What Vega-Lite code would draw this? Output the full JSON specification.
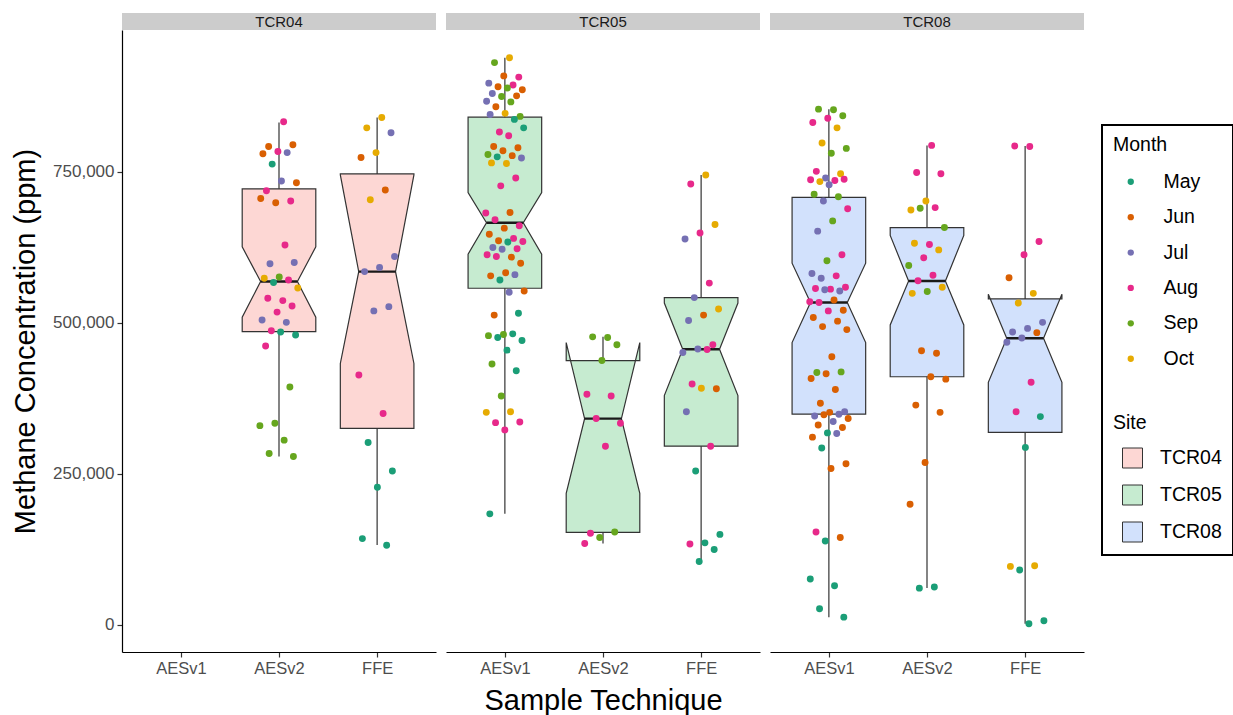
{
"$schema": "https://vega.github.io/schema/vega-lite/v6.json",
"background": "white",
"padding": {"left": 11, "top": 13, "right": 4, "bottom": 4},
"datasets": {
"boxes": [
{"site":"TCR04","tech":"AESv2","lower":279000,"q1":485700,"notchLo":509500,"median":568600,"notchHi":626000,"q3":722000,"upper":832000},
{"site":"TCR04","tech":"FFE","lower":132500,"q1":325600,"notchLo":433000,"median":585000,"notchHi":745000,"q3":746800,"upper":840000},
{"site":"TCR05","tech":"AESv1","lower":184000,"q1":557500,"notchLo":614000,"median":666000,"notchHi":716000,"q3":840700,"upper":939000},
{"site":"TCR05","tech":"AESv2","lower":135000,"q1":153500,"notchLo":218000,"median":341600,"notchHi":467500,"q3":437700,"upper":477000},
{"site":"TCR05","tech":"FFE","lower":105000,"q1":296000,"notchLo":379700,"median":456500,"notchHi":533000,"q3":542000,"upper":745000},
{"site":"TCR08","tech":"AESv1","lower":13000,"q1":349000,"notchLo":467500,"median":534000,"notchHi":599000,"q3":708000,"upper":854000},
{"site":"TCR08","tech":"AESv2","lower":61300,"q1":411000,"notchLo":496800,"median":569600,"notchHi":645000,"q3":658000,"upper":794000},
{"site":"TCR08","tech":"FFE","lower":2000,"q1":319000,"notchLo":401800,"median":474600,"notchHi":547600,"q3":539800,"upper":793000}
],
"points": [
{"site":"TCR04","tech":"AESv2","month":"Aug","ppm":833000},
{"site":"TCR04","tech":"AESv2","month":"Jun","ppm":792000},
{"site":"TCR04","tech":"AESv2","month":"Jun","ppm":795000},
{"site":"TCR04","tech":"AESv2","month":"Aug","ppm":784000},
{"site":"TCR04","tech":"AESv2","month":"Jun","ppm":780000},
{"site":"TCR04","tech":"AESv2","month":"Jul","ppm":782000},
{"site":"TCR04","tech":"AESv2","month":"May","ppm":763000},
{"site":"TCR04","tech":"AESv2","month":"Jun","ppm":732000},
{"site":"TCR04","tech":"AESv2","month":"Jul","ppm":735000},
{"site":"TCR04","tech":"AESv2","month":"Aug","ppm":719000},
{"site":"TCR04","tech":"AESv2","month":"Aug","ppm":702000},
{"site":"TCR04","tech":"AESv2","month":"Jun","ppm":699000},
{"site":"TCR04","tech":"AESv2","month":"Jun","ppm":706000},
{"site":"TCR04","tech":"AESv2","month":"Aug","ppm":629000},
{"site":"TCR04","tech":"AESv2","month":"Jul","ppm":598000},
{"site":"TCR04","tech":"AESv2","month":"Jul","ppm":600000},
{"site":"TCR04","tech":"AESv2","month":"Sep","ppm":576000},
{"site":"TCR04","tech":"AESv2","month":"Oct","ppm":574000},
{"site":"TCR04","tech":"AESv2","month":"Aug","ppm":571000},
{"site":"TCR04","tech":"AESv2","month":"May","ppm":567000},
{"site":"TCR04","tech":"AESv2","month":"Oct","ppm":558000},
{"site":"TCR04","tech":"AESv2","month":"Aug","ppm":537000},
{"site":"TCR04","tech":"AESv2","month":"Aug","ppm":541000},
{"site":"TCR04","tech":"AESv2","month":"Aug","ppm":528000},
{"site":"TCR04","tech":"AESv2","month":"Aug","ppm":518000},
{"site":"TCR04","tech":"AESv2","month":"Jul","ppm":505000},
{"site":"TCR04","tech":"AESv2","month":"Jul","ppm":501000},
{"site":"TCR04","tech":"AESv2","month":"Aug","ppm":487000},
{"site":"TCR04","tech":"AESv2","month":"May","ppm":480000},
{"site":"TCR04","tech":"AESv2","month":"May","ppm":485000},
{"site":"TCR04","tech":"AESv2","month":"Aug","ppm":462000},
{"site":"TCR04","tech":"AESv2","month":"Sep","ppm":394000},
{"site":"TCR04","tech":"AESv2","month":"Sep","ppm":334000},
{"site":"TCR04","tech":"AESv2","month":"Sep","ppm":330000},
{"site":"TCR04","tech":"AESv2","month":"Sep","ppm":306000},
{"site":"TCR04","tech":"AESv2","month":"Sep","ppm":284000},
{"site":"TCR04","tech":"AESv2","month":"Sep","ppm":279000},
{"site":"TCR04","tech":"FFE","month":"Oct","ppm":840000},
{"site":"TCR04","tech":"FFE","month":"Oct","ppm":823000},
{"site":"TCR04","tech":"FFE","month":"Jul","ppm":815000},
{"site":"TCR04","tech":"FFE","month":"Oct","ppm":782000},
{"site":"TCR04","tech":"FFE","month":"Jun","ppm":774000},
{"site":"TCR04","tech":"FFE","month":"Jun","ppm":720000},
{"site":"TCR04","tech":"FFE","month":"Oct","ppm":704000},
{"site":"TCR04","tech":"FFE","month":"Jul","ppm":610000},
{"site":"TCR04","tech":"FFE","month":"Jul","ppm":592000},
{"site":"TCR04","tech":"FFE","month":"Jul","ppm":585000},
{"site":"TCR04","tech":"FFE","month":"Jul","ppm":527000},
{"site":"TCR04","tech":"FFE","month":"Jul","ppm":520000},
{"site":"TCR04","tech":"FFE","month":"Aug","ppm":414000},
{"site":"TCR04","tech":"FFE","month":"Aug","ppm":350000},
{"site":"TCR04","tech":"FFE","month":"May","ppm":302000},
{"site":"TCR04","tech":"FFE","month":"May","ppm":255000},
{"site":"TCR04","tech":"FFE","month":"May","ppm":228000},
{"site":"TCR04","tech":"FFE","month":"May","ppm":143000},
{"site":"TCR04","tech":"FFE","month":"May","ppm":132000},
{"site":"TCR05","tech":"AESv1","month":"Oct","ppm":939000},
{"site":"TCR05","tech":"AESv1","month":"Sep","ppm":931000},
{"site":"TCR05","tech":"AESv1","month":"Aug","ppm":907000},
{"site":"TCR05","tech":"AESv1","month":"Jun","ppm":909000},
{"site":"TCR05","tech":"AESv1","month":"Jul","ppm":897000},
{"site":"TCR05","tech":"AESv1","month":"Aug","ppm":894000},
{"site":"TCR05","tech":"AESv1","month":"Jun","ppm":891000},
{"site":"TCR05","tech":"AESv1","month":"Jun","ppm":886000},
{"site":"TCR05","tech":"AESv1","month":"Sep","ppm":889000},
{"site":"TCR05","tech":"AESv1","month":"Jul","ppm":880000},
{"site":"TCR05","tech":"AESv1","month":"Jun","ppm":876000},
{"site":"TCR05","tech":"AESv1","month":"Sep","ppm":875000},
{"site":"TCR05","tech":"AESv1","month":"Jul","ppm":867000},
{"site":"TCR05","tech":"AESv1","month":"Sep","ppm":866000},
{"site":"TCR05","tech":"AESv1","month":"Jun","ppm":858000},
{"site":"TCR05","tech":"AESv1","month":"Sep","ppm":842000},
{"site":"TCR05","tech":"AESv1","month":"Oct","ppm":847000},
{"site":"TCR05","tech":"AESv1","month":"Jul","ppm":845000},
{"site":"TCR05","tech":"AESv1","month":"May","ppm":837000},
{"site":"TCR05","tech":"AESv1","month":"Aug","ppm":816000},
{"site":"TCR05","tech":"AESv1","month":"May","ppm":823000},
{"site":"TCR05","tech":"AESv1","month":"Aug","ppm":810000},
{"site":"TCR05","tech":"AESv1","month":"Jun","ppm":792000},
{"site":"TCR05","tech":"AESv1","month":"Jun","ppm":790000},
{"site":"TCR05","tech":"AESv1","month":"Jun","ppm":785000},
{"site":"TCR05","tech":"AESv1","month":"Sep","ppm":779000},
{"site":"TCR05","tech":"AESv1","month":"Jun","ppm":777000},
{"site":"TCR05","tech":"AESv1","month":"May","ppm":775000},
{"site":"TCR05","tech":"AESv1","month":"Jul","ppm":773000},
{"site":"TCR05","tech":"AESv1","month":"Oct","ppm":764000},
{"site":"TCR05","tech":"AESv1","month":"Oct","ppm":765000},
{"site":"TCR05","tech":"AESv1","month":"Aug","ppm":740000},
{"site":"TCR05","tech":"AESv1","month":"Aug","ppm":727000},
{"site":"TCR05","tech":"AESv1","month":"Aug","ppm":682000},
{"site":"TCR05","tech":"AESv1","month":"Jun","ppm":683000},
{"site":"TCR05","tech":"AESv1","month":"Aug","ppm":671000},
{"site":"TCR05","tech":"AESv1","month":"Aug","ppm":661000},
{"site":"TCR05","tech":"AESv1","month":"Jun","ppm":657000},
{"site":"TCR05","tech":"AESv1","month":"Jun","ppm":647000},
{"site":"TCR05","tech":"AESv1","month":"Aug","ppm":640000},
{"site":"TCR05","tech":"AESv1","month":"Jun","ppm":636000},
{"site":"TCR05","tech":"AESv1","month":"Aug","ppm":635000},
{"site":"TCR05","tech":"AESv1","month":"May","ppm":634000},
{"site":"TCR05","tech":"AESv1","month":"Jul","ppm":625000},
{"site":"TCR05","tech":"AESv1","month":"Aug","ppm":623000},
{"site":"TCR05","tech":"AESv1","month":"Jul","ppm":622000},
{"site":"TCR05","tech":"AESv1","month":"Aug","ppm":613000},
{"site":"TCR05","tech":"AESv1","month":"Jun","ppm":609000},
{"site":"TCR05","tech":"AESv1","month":"Aug","ppm":610000},
{"site":"TCR05","tech":"AESv1","month":"Jun","ppm":599000},
{"site":"TCR05","tech":"AESv1","month":"Jun","ppm":583000},
{"site":"TCR05","tech":"AESv1","month":"Jun","ppm":578000},
{"site":"TCR05","tech":"AESv1","month":"Jul","ppm":580000},
{"site":"TCR05","tech":"AESv1","month":"May","ppm":571000},
{"site":"TCR05","tech":"AESv1","month":"Jun","ppm":553000},
{"site":"TCR05","tech":"AESv1","month":"Jul","ppm":551000},
{"site":"TCR05","tech":"AESv1","month":"Jun","ppm":513000},
{"site":"TCR05","tech":"AESv1","month":"May","ppm":516000},
{"site":"TCR05","tech":"AESv1","month":"Sep","ppm":481000},
{"site":"TCR05","tech":"AESv1","month":"Sep","ppm":479000},
{"site":"TCR05","tech":"AESv1","month":"May","ppm":482000},
{"site":"TCR05","tech":"AESv1","month":"May","ppm":476000},
{"site":"TCR05","tech":"AESv1","month":"May","ppm":471000},
{"site":"TCR05","tech":"AESv1","month":"May","ppm":455000},
{"site":"TCR05","tech":"AESv1","month":"Sep","ppm":432000},
{"site":"TCR05","tech":"AESv1","month":"May","ppm":421000},
{"site":"TCR05","tech":"AESv1","month":"Sep","ppm":379000},
{"site":"TCR05","tech":"AESv1","month":"Oct","ppm":352000},
{"site":"TCR05","tech":"AESv1","month":"Oct","ppm":353000},
{"site":"TCR05","tech":"AESv1","month":"Aug","ppm":335000},
{"site":"TCR05","tech":"AESv1","month":"Aug","ppm":336000},
{"site":"TCR05","tech":"AESv1","month":"Aug","ppm":323000},
{"site":"TCR05","tech":"AESv1","month":"May","ppm":184000},
{"site":"TCR05","tech":"AESv2","month":"Sep","ppm":476000},
{"site":"TCR05","tech":"AESv2","month":"Sep","ppm":477000},
{"site":"TCR05","tech":"AESv2","month":"Sep","ppm":464000},
{"site":"TCR05","tech":"AESv2","month":"Sep","ppm":438000},
{"site":"TCR05","tech":"AESv2","month":"Aug","ppm":382000},
{"site":"TCR05","tech":"AESv2","month":"Aug","ppm":379000},
{"site":"TCR05","tech":"AESv2","month":"Aug","ppm":342000},
{"site":"TCR05","tech":"AESv2","month":"Aug","ppm":334000},
{"site":"TCR05","tech":"AESv2","month":"Aug","ppm":296000},
{"site":"TCR05","tech":"AESv2","month":"Aug","ppm":152000},
{"site":"TCR05","tech":"AESv2","month":"Sep","ppm":154000},
{"site":"TCR05","tech":"AESv2","month":"Sep","ppm":145000},
{"site":"TCR05","tech":"AESv2","month":"Aug","ppm":135000},
{"site":"TCR05","tech":"FFE","month":"Oct","ppm":745000},
{"site":"TCR05","tech":"FFE","month":"Aug","ppm":730000},
{"site":"TCR05","tech":"FFE","month":"Oct","ppm":663000},
{"site":"TCR05","tech":"FFE","month":"Aug","ppm":649000},
{"site":"TCR05","tech":"FFE","month":"Jul","ppm":639000},
{"site":"TCR05","tech":"FFE","month":"Aug","ppm":566000},
{"site":"TCR05","tech":"FFE","month":"Jul","ppm":542000},
{"site":"TCR05","tech":"FFE","month":"Oct","ppm":523000},
{"site":"TCR05","tech":"FFE","month":"Jun","ppm":513000},
{"site":"TCR05","tech":"FFE","month":"Jul","ppm":504000},
{"site":"TCR05","tech":"FFE","month":"Aug","ppm":464000},
{"site":"TCR05","tech":"FFE","month":"Jul","ppm":457000},
{"site":"TCR05","tech":"FFE","month":"Jul","ppm":451000},
{"site":"TCR05","tech":"FFE","month":"Aug","ppm":456000},
{"site":"TCR05","tech":"FFE","month":"Aug","ppm":399000},
{"site":"TCR05","tech":"FFE","month":"Jun","ppm":391000},
{"site":"TCR05","tech":"FFE","month":"Oct","ppm":392000},
{"site":"TCR05","tech":"FFE","month":"Jul","ppm":353000},
{"site":"TCR05","tech":"FFE","month":"Aug","ppm":296000},
{"site":"TCR05","tech":"FFE","month":"May","ppm":255000},
{"site":"TCR05","tech":"FFE","month":"May","ppm":150000},
{"site":"TCR05","tech":"FFE","month":"May","ppm":136000},
{"site":"TCR05","tech":"FFE","month":"Aug","ppm":134000},
{"site":"TCR05","tech":"FFE","month":"May","ppm":125000},
{"site":"TCR05","tech":"FFE","month":"May","ppm":105000},
{"site":"TCR08","tech":"AESv1","month":"Sep","ppm":853000},
{"site":"TCR08","tech":"AESv1","month":"Sep","ppm":854000},
{"site":"TCR08","tech":"AESv1","month":"Sep","ppm":843000},
{"site":"TCR08","tech":"AESv1","month":"Aug","ppm":839000},
{"site":"TCR08","tech":"AESv1","month":"Aug","ppm":832000},
{"site":"TCR08","tech":"AESv1","month":"Oct","ppm":823000},
{"site":"TCR08","tech":"AESv1","month":"Oct","ppm":798000},
{"site":"TCR08","tech":"AESv1","month":"Sep","ppm":789000},
{"site":"TCR08","tech":"AESv1","month":"Sep","ppm":781000},
{"site":"TCR08","tech":"AESv1","month":"Aug","ppm":751000},
{"site":"TCR08","tech":"AESv1","month":"Oct","ppm":747000},
{"site":"TCR08","tech":"AESv1","month":"Jul","ppm":740000},
{"site":"TCR08","tech":"AESv1","month":"Aug","ppm":737000},
{"site":"TCR08","tech":"AESv1","month":"Aug","ppm":736000},
{"site":"TCR08","tech":"AESv1","month":"Oct","ppm":734000},
{"site":"TCR08","tech":"AESv1","month":"Aug","ppm":738000},
{"site":"TCR08","tech":"AESv1","month":"Jul","ppm":729000},
{"site":"TCR08","tech":"AESv1","month":"Sep","ppm":713000},
{"site":"TCR08","tech":"AESv1","month":"Sep","ppm":709000},
{"site":"TCR08","tech":"AESv1","month":"Jul","ppm":702000},
{"site":"TCR08","tech":"AESv1","month":"Aug","ppm":689000},
{"site":"TCR08","tech":"AESv1","month":"Sep","ppm":669000},
{"site":"TCR08","tech":"AESv1","month":"Jul","ppm":652000},
{"site":"TCR08","tech":"AESv1","month":"Aug","ppm":613000},
{"site":"TCR08","tech":"AESv1","month":"Sep","ppm":603000},
{"site":"TCR08","tech":"AESv1","month":"Jul","ppm":582000},
{"site":"TCR08","tech":"AESv1","month":"Aug","ppm":578000},
{"site":"TCR08","tech":"AESv1","month":"Jul","ppm":574000},
{"site":"TCR08","tech":"AESv1","month":"Aug","ppm":559000},
{"site":"TCR08","tech":"AESv1","month":"Aug","ppm":556000},
{"site":"TCR08","tech":"AESv1","month":"Aug","ppm":557000},
{"site":"TCR08","tech":"AESv1","month":"Jul","ppm":553000},
{"site":"TCR08","tech":"AESv1","month":"Jul","ppm":555000},
{"site":"TCR08","tech":"AESv1","month":"Aug","ppm":535000},
{"site":"TCR08","tech":"AESv1","month":"Jun","ppm":538000},
{"site":"TCR08","tech":"AESv1","month":"Aug","ppm":534000},
{"site":"TCR08","tech":"AESv1","month":"Jun","ppm":521000},
{"site":"TCR08","tech":"AESv1","month":"Aug","ppm":520000},
{"site":"TCR08","tech":"AESv1","month":"Jun","ppm":509000},
{"site":"TCR08","tech":"AESv1","month":"Jun","ppm":503000},
{"site":"TCR08","tech":"AESv1","month":"Jun","ppm":494000},
{"site":"TCR08","tech":"AESv1","month":"Jun","ppm":489000},
{"site":"TCR08","tech":"AESv1","month":"Jun","ppm":444000},
{"site":"TCR08","tech":"AESv1","month":"Sep","ppm":418000},
{"site":"TCR08","tech":"AESv1","month":"Sep","ppm":419000},
{"site":"TCR08","tech":"AESv1","month":"Jun","ppm":416000},
{"site":"TCR08","tech":"AESv1","month":"Jun","ppm":408000},
{"site":"TCR08","tech":"AESv1","month":"Jun","ppm":390000},
{"site":"TCR08","tech":"AESv1","month":"Jun","ppm":367000},
{"site":"TCR08","tech":"AESv1","month":"Jul","ppm":353000},
{"site":"TCR08","tech":"AESv1","month":"Jun","ppm":352000},
{"site":"TCR08","tech":"AESv1","month":"Jul","ppm":346000},
{"site":"TCR08","tech":"AESv1","month":"Jul","ppm":349000},
{"site":"TCR08","tech":"AESv1","month":"Jun","ppm":348000},
{"site":"TCR08","tech":"AESv1","month":"Jun","ppm":342000},
{"site":"TCR08","tech":"AESv1","month":"Jul","ppm":337000},
{"site":"TCR08","tech":"AESv1","month":"Jun","ppm":331000},
{"site":"TCR08","tech":"AESv1","month":"Jun","ppm":327000},
{"site":"TCR08","tech":"AESv1","month":"May","ppm":318000},
{"site":"TCR08","tech":"AESv1","month":"Jun","ppm":311000},
{"site":"TCR08","tech":"AESv1","month":"Jul","ppm":317000},
{"site":"TCR08","tech":"AESv1","month":"May","ppm":293000},
{"site":"TCR08","tech":"AESv1","month":"Jun","ppm":267000},
{"site":"TCR08","tech":"AESv1","month":"Jun","ppm":259000},
{"site":"TCR08","tech":"AESv1","month":"Aug","ppm":154000},
{"site":"TCR08","tech":"AESv1","month":"Jun","ppm":145000},
{"site":"TCR08","tech":"AESv1","month":"May","ppm":139000},
{"site":"TCR08","tech":"AESv1","month":"May","ppm":76000},
{"site":"TCR08","tech":"AESv1","month":"May","ppm":65000},
{"site":"TCR08","tech":"AESv1","month":"May","ppm":27000},
{"site":"TCR08","tech":"AESv1","month":"May","ppm":13000},
{"site":"TCR08","tech":"AESv2","month":"Aug","ppm":794000},
{"site":"TCR08","tech":"AESv2","month":"Aug","ppm":749000},
{"site":"TCR08","tech":"AESv2","month":"Aug","ppm":747000},
{"site":"TCR08","tech":"AESv2","month":"Oct","ppm":702000},
{"site":"TCR08","tech":"AESv2","month":"Oct","ppm":687000},
{"site":"TCR08","tech":"AESv2","month":"Aug","ppm":691000},
{"site":"TCR08","tech":"AESv2","month":"Sep","ppm":690000},
{"site":"TCR08","tech":"AESv2","month":"Sep","ppm":658000},
{"site":"TCR08","tech":"AESv2","month":"Aug","ppm":630000},
{"site":"TCR08","tech":"AESv2","month":"Oct","ppm":632000},
{"site":"TCR08","tech":"AESv2","month":"Oct","ppm":621000},
{"site":"TCR08","tech":"AESv2","month":"Aug","ppm":608000},
{"site":"TCR08","tech":"AESv2","month":"Sep","ppm":595000},
{"site":"TCR08","tech":"AESv2","month":"Aug","ppm":579000},
{"site":"TCR08","tech":"AESv2","month":"Aug","ppm":570000},
{"site":"TCR08","tech":"AESv2","month":"Oct","ppm":559000},
{"site":"TCR08","tech":"AESv2","month":"Sep","ppm":552000},
{"site":"TCR08","tech":"AESv2","month":"Oct","ppm":549000},
{"site":"TCR08","tech":"AESv2","month":"Jun","ppm":450000},
{"site":"TCR08","tech":"AESv2","month":"Jun","ppm":454000},
{"site":"TCR08","tech":"AESv2","month":"Jun","ppm":407000},
{"site":"TCR08","tech":"AESv2","month":"Jun","ppm":411000},
{"site":"TCR08","tech":"AESv2","month":"Jun","ppm":364000},
{"site":"TCR08","tech":"AESv2","month":"Jun","ppm":352000},
{"site":"TCR08","tech":"AESv2","month":"Jun","ppm":269000},
{"site":"TCR08","tech":"AESv2","month":"Jun","ppm":200000},
{"site":"TCR08","tech":"AESv2","month":"May","ppm":63000},
{"site":"TCR08","tech":"AESv2","month":"May","ppm":61000},
{"site":"TCR08","tech":"FFE","month":"Aug","ppm":792000},
{"site":"TCR08","tech":"FFE","month":"Aug","ppm":793000},
{"site":"TCR08","tech":"FFE","month":"Aug","ppm":635000},
{"site":"TCR08","tech":"FFE","month":"Aug","ppm":613000},
{"site":"TCR08","tech":"FFE","month":"Jun","ppm":575000},
{"site":"TCR08","tech":"FFE","month":"Oct","ppm":549000},
{"site":"TCR08","tech":"FFE","month":"Oct","ppm":533000},
{"site":"TCR08","tech":"FFE","month":"Jul","ppm":501000},
{"site":"TCR08","tech":"FFE","month":"Jul","ppm":491000},
{"site":"TCR08","tech":"FFE","month":"Jul","ppm":485000},
{"site":"TCR08","tech":"FFE","month":"Jun","ppm":484000},
{"site":"TCR08","tech":"FFE","month":"Jul","ppm":475000},
{"site":"TCR08","tech":"FFE","month":"Jul","ppm":468000},
{"site":"TCR08","tech":"FFE","month":"Aug","ppm":402000},
{"site":"TCR08","tech":"FFE","month":"Aug","ppm":353000},
{"site":"TCR08","tech":"FFE","month":"May","ppm":345000},
{"site":"TCR08","tech":"FFE","month":"May","ppm":294000},
{"site":"TCR08","tech":"FFE","month":"Oct","ppm":97000},
{"site":"TCR08","tech":"FFE","month":"Oct","ppm":98000},
{"site":"TCR08","tech":"FFE","month":"May","ppm":91000},
{"site":"TCR08","tech":"FFE","month":"May","ppm":7000},
{"site":"TCR08","tech":"FFE","month":"May","ppm":2000}
]
},
"config": {
"font": "Liberation Sans",
"view": {"stroke": null},
"axis": {"grid": false, "domainColor": "#000000", "domainWidth": 1.2, "tickColor": "#333333", "tickWidth": 1.2, "tickSize": 5, "labelColor": "#4D4D4D", "labelFontSize": 16.5, "labelPadding": 3, "titleFontSize": 29, "titleFontWeight": "normal", "titleColor": "#000000"},
"legend": {"strokeWidth": 2}
},
"spacing": 10,
"hconcat": [
{"spacing": 0, "bounds": "flush", "vconcat": [
 {"data": {"values": [{"site": "TCR04"}]}, "width": 314, "height": 17, "view": {"fill": "#CCCCCC", "stroke": null},
  "mark": {"type": "text", "fontSize": 15, "color": "#1A1A1A"}, "encoding": {"text": {"field": "site"}}},
 {"width": 314, "height": 622, "layer": [
  {"data": {"name": "boxes"}, "transform": [{"filter": "datum.site == 'TCR04'"}, {"calculate": "indexof(['AESv1','AESv2','FFE'], datum.tech) + 1", "as": "xi"}],
   "mark": {"type": "rule", "color": "#333333", "strokeWidth": 1.2},
   "encoding": {
    "x": {"field": "xi", "type": "quantitative", "scale": {"domain": [0.4, 3.6], "nice": false, "zero": false}, "axis": {"values": [1,2,3], "labelExpr": "datum.value == 1 ? 'AESv1' : datum.value == 2 ? 'AESv2' : 'FFE'", "title": null}},
    "y": {"field": "lower", "type": "quantitative", "scale": {"domain": [-44700, 985000], "nice": false, "zero": false}, "axis": {"values": [0,250000,500000,750000], "format": ",.0f", "labelFontSize": 17, "title": "Methane Concentration (ppm)", "titlePadding": 12}},
    "y2": {"field": "upper"}}},
  {"data": {"name": "boxes"}, "transform": [{"filter": "datum.site == 'TCR04'"}, {"fold": ["q1","notchLo","median","notchHi","q3"], "as": ["stat","val"]}, {"calculate": "indexof(['AESv1','AESv2','FFE'], datum.tech) + 1", "as": "xi"}, {"calculate": "datum.stat == 'median' ? 0.1875 : 0.375", "as": "hw"}, {"calculate": "datum.xi - datum.hw", "as": "xl"}, {"calculate": "datum.xi + datum.hw", "as": "xr"}],
   "mark": {"type": "area", "orient": "horizontal", "opacity": 1, "stroke": "#333333", "strokeWidth": 1.2},
   "encoding": {
    "x": {"field": "xl", "type": "quantitative", "stack": null, "scale": {"domain": [0.4, 3.6], "nice": false, "zero": false}, "axis": {"values": [1,2,3], "labelExpr": "datum.value == 1 ? 'AESv1' : datum.value == 2 ? 'AESv2' : 'FFE'", "title": null}},
    "x2": {"field": "xr"},
    "y": {"field": "val", "type": "quantitative", "scale": {"domain": [-44700, 985000], "nice": false, "zero": false}, "axis": {"values": [0,250000,500000,750000], "format": ",.0f", "labelFontSize": 17, "title": "Methane Concentration (ppm)", "titlePadding": 12}},
    "order": {"value": null},
    "detail": {"field": "tech", "type": "nominal"},
    "fill": {"field": "site", "type": "nominal", "scale": {"domain": ["TCR04","TCR05","TCR08"], "range": ["#FDD7D4","#C6EBD0","#D2E1FC"]},
     "legend": {"orient": "none", "legendX": 980, "legendY": 112, "title": ["Month", "Site"], "titleLineHeight": 278, "titleFontSize": 19.5, "titleFontWeight": "normal", "titleColor": "#000000", "titlePadding": 14, "symbolType": "square", "symbolSize": 400, "symbolStrokeColor": "#333333", "symbolStrokeWidth": 1, "symbolOffset": 9, "labelOffset": 17, "labelFontSize": 19.5, "labelColor": "#000000", "rowPadding": 12, "padding": 11, "strokeColor": "#000000"}}}},
  {"data": {"name": "boxes"}, "transform": [{"filter": "datum.site == 'TCR04'"}, {"calculate": "indexof(['AESv1','AESv2','FFE'], datum.tech) + 1", "as": "xi"}, {"calculate": "datum.xi - 0.1875", "as": "mlo"}, {"calculate": "datum.xi + 0.1875", "as": "mhi"}],
   "mark": {"type": "rule", "color": "#1A1A1A", "strokeWidth": 2.4},
   "encoding": {
    "x": {"field": "mlo", "type": "quantitative", "scale": {"domain": [0.4, 3.6], "nice": false, "zero": false}, "axis": {"values": [1,2,3], "labelExpr": "datum.value == 1 ? 'AESv1' : datum.value == 2 ? 'AESv2' : 'FFE'", "title": null}},
    "x2": {"field": "mhi"},
    "y": {"field": "median", "type": "quantitative", "scale": {"domain": [-44700, 985000], "nice": false, "zero": false}, "axis": {"values": [0,250000,500000,750000], "format": ",.0f", "labelFontSize": 17, "title": "Methane Concentration (ppm)", "titlePadding": 12}}}},
  {"data": {"name": "points"}, "transform": [{"filter": "datum.site == 'TCR04'"}, {"window": [{"op": "row_number", "as": "rn"}], "groupby": ["tech"]}, {"calculate": "indexof(['AESv1','AESv2','FFE'], datum.tech) + 1", "as": "xi"}, {"calculate": "datum.xi + ((datum.rn * 0.6180339887) % 1 - 0.5) * 0.4", "as": "jx"}],
   "mark": {"type": "circle", "size": 48, "opacity": 1},
   "encoding": {
    "x": {"field": "jx", "type": "quantitative", "scale": {"domain": [0.4, 3.6], "nice": false, "zero": false}, "axis": {"values": [1,2,3], "labelExpr": "datum.value == 1 ? 'AESv1' : datum.value == 2 ? 'AESv2' : 'FFE'", "title": null}},
    "y": {"field": "ppm", "type": "quantitative", "scale": {"domain": [-44700, 985000], "nice": false, "zero": false}, "axis": {"values": [0,250000,500000,750000], "format": ",.0f", "labelFontSize": 17, "title": "Methane Concentration (ppm)", "titlePadding": 12}},
    "color": {"field": "month", "type": "nominal", "scale": {"domain": ["May","Jun","Jul","Aug","Sep","Oct"], "range": ["#1B9E77","#D95F02","#7570B3","#E7298A","#66A61E","#E6AB02"]},
     "legend": {"orient": "none", "legendX": 999, "legendY": 159, "title": null, "symbolType": "circle", "symbolSize": 40, "symbolStrokeWidth": 0, "labelFontSize": 19.5, "labelColor": "#000000", "labelOffset": 23, "rowPadding": 14.4, "padding": 0}}}}
 ]}
]},
{"spacing": 0, "bounds": "flush", "vconcat": [
 {"data": {"values": [{"site": "TCR05"}]}, "width": 314, "height": 17, "view": {"fill": "#CCCCCC", "stroke": null},
  "mark": {"type": "text", "fontSize": 15, "color": "#1A1A1A"}, "encoding": {"text": {"field": "site"}}},
 {"width": 314, "height": 622, "layer": [
  {"data": {"name": "boxes"}, "transform": [{"filter": "datum.site == 'TCR05'"}, {"calculate": "indexof(['AESv1','AESv2','FFE'], datum.tech) + 1", "as": "xi"}],
   "mark": {"type": "rule", "color": "#333333", "strokeWidth": 1.2},
   "encoding": {
    "x": {"field": "xi", "type": "quantitative", "scale": {"domain": [0.4, 3.6], "nice": false, "zero": false}, "axis": {"values": [1,2,3], "labelExpr": "datum.value == 1 ? 'AESv1' : datum.value == 2 ? 'AESv2' : 'FFE'", "title": "Sample Technique", "titlePadding": 10}},
    "y": {"field": "lower", "type": "quantitative", "scale": {"domain": [-44700, 985000], "nice": false, "zero": false}, "axis": null},
    "y2": {"field": "upper"}}},
  {"data": {"name": "boxes"}, "transform": [{"filter": "datum.site == 'TCR05'"}, {"fold": ["q1","notchLo","median","notchHi","q3"], "as": ["stat","val"]}, {"calculate": "indexof(['AESv1','AESv2','FFE'], datum.tech) + 1", "as": "xi"}, {"calculate": "datum.stat == 'median' ? 0.1875 : 0.375", "as": "hw"}, {"calculate": "datum.xi - datum.hw", "as": "xl"}, {"calculate": "datum.xi + datum.hw", "as": "xr"}],
   "mark": {"type": "area", "orient": "horizontal", "opacity": 1, "stroke": "#333333", "strokeWidth": 1.2},
   "encoding": {
    "x": {"field": "xl", "type": "quantitative", "stack": null, "scale": {"domain": [0.4, 3.6], "nice": false, "zero": false}, "axis": {"values": [1,2,3], "labelExpr": "datum.value == 1 ? 'AESv1' : datum.value == 2 ? 'AESv2' : 'FFE'", "title": "Sample Technique", "titlePadding": 10}},
    "x2": {"field": "xr"},
    "y": {"field": "val", "type": "quantitative", "scale": {"domain": [-44700, 985000], "nice": false, "zero": false}, "axis": null},
    "order": {"value": null},
    "detail": {"field": "tech", "type": "nominal"},
    "fill": {"field": "site", "type": "nominal", "scale": {"domain": ["TCR04","TCR05","TCR08"], "range": ["#FDD7D4","#C6EBD0","#D2E1FC"]},
     "legend": {"orient": "none", "legendX": 980, "legendY": 112, "title": ["Month", "Site"], "titleLineHeight": 278, "titleFontSize": 19.5, "titleFontWeight": "normal", "titleColor": "#000000", "titlePadding": 14, "symbolType": "square", "symbolSize": 400, "symbolStrokeColor": "#333333", "symbolStrokeWidth": 1, "symbolOffset": 9, "labelOffset": 17, "labelFontSize": 19.5, "labelColor": "#000000", "rowPadding": 12, "padding": 11, "strokeColor": "#000000"}}}},
  {"data": {"name": "boxes"}, "transform": [{"filter": "datum.site == 'TCR05'"}, {"calculate": "indexof(['AESv1','AESv2','FFE'], datum.tech) + 1", "as": "xi"}, {"calculate": "datum.xi - 0.1875", "as": "mlo"}, {"calculate": "datum.xi + 0.1875", "as": "mhi"}],
   "mark": {"type": "rule", "color": "#1A1A1A", "strokeWidth": 2.4},
   "encoding": {
    "x": {"field": "mlo", "type": "quantitative", "scale": {"domain": [0.4, 3.6], "nice": false, "zero": false}, "axis": {"values": [1,2,3], "labelExpr": "datum.value == 1 ? 'AESv1' : datum.value == 2 ? 'AESv2' : 'FFE'", "title": "Sample Technique", "titlePadding": 10}},
    "x2": {"field": "mhi"},
    "y": {"field": "median", "type": "quantitative", "scale": {"domain": [-44700, 985000], "nice": false, "zero": false}, "axis": null}}},
  {"data": {"name": "points"}, "transform": [{"filter": "datum.site == 'TCR05'"}, {"window": [{"op": "row_number", "as": "rn"}], "groupby": ["tech"]}, {"calculate": "indexof(['AESv1','AESv2','FFE'], datum.tech) + 1", "as": "xi"}, {"calculate": "datum.xi + ((datum.rn * 0.6180339887) % 1 - 0.5) * 0.4", "as": "jx"}],
   "mark": {"type": "circle", "size": 48, "opacity": 1},
   "encoding": {
    "x": {"field": "jx", "type": "quantitative", "scale": {"domain": [0.4, 3.6], "nice": false, "zero": false}, "axis": {"values": [1,2,3], "labelExpr": "datum.value == 1 ? 'AESv1' : datum.value == 2 ? 'AESv2' : 'FFE'", "title": "Sample Technique", "titlePadding": 10}},
    "y": {"field": "ppm", "type": "quantitative", "scale": {"domain": [-44700, 985000], "nice": false, "zero": false}, "axis": null},
    "color": {"field": "month", "type": "nominal", "scale": {"domain": ["May","Jun","Jul","Aug","Sep","Oct"], "range": ["#1B9E77","#D95F02","#7570B3","#E7298A","#66A61E","#E6AB02"]},
     "legend": {"orient": "none", "legendX": 999, "legendY": 159, "title": null, "symbolType": "circle", "symbolSize": 40, "symbolStrokeWidth": 0, "labelFontSize": 19.5, "labelColor": "#000000", "labelOffset": 23, "rowPadding": 14.4, "padding": 0}}}}
 ]}
]},
{"spacing": 0, "bounds": "flush", "vconcat": [
 {"data": {"values": [{"site": "TCR08"}]}, "width": 314, "height": 17, "view": {"fill": "#CCCCCC", "stroke": null},
  "mark": {"type": "text", "fontSize": 15, "color": "#1A1A1A"}, "encoding": {"text": {"field": "site"}}},
 {"width": 314, "height": 622, "layer": [
  {"data": {"name": "boxes"}, "transform": [{"filter": "datum.site == 'TCR08'"}, {"calculate": "indexof(['AESv1','AESv2','FFE'], datum.tech) + 1", "as": "xi"}],
   "mark": {"type": "rule", "color": "#333333", "strokeWidth": 1.2},
   "encoding": {
    "x": {"field": "xi", "type": "quantitative", "scale": {"domain": [0.4, 3.6], "nice": false, "zero": false}, "axis": {"values": [1,2,3], "labelExpr": "datum.value == 1 ? 'AESv1' : datum.value == 2 ? 'AESv2' : 'FFE'", "title": null}},
    "y": {"field": "lower", "type": "quantitative", "scale": {"domain": [-44700, 985000], "nice": false, "zero": false}, "axis": null},
    "y2": {"field": "upper"}}},
  {"data": {"name": "boxes"}, "transform": [{"filter": "datum.site == 'TCR08'"}, {"fold": ["q1","notchLo","median","notchHi","q3"], "as": ["stat","val"]}, {"calculate": "indexof(['AESv1','AESv2','FFE'], datum.tech) + 1", "as": "xi"}, {"calculate": "datum.stat == 'median' ? 0.1875 : 0.375", "as": "hw"}, {"calculate": "datum.xi - datum.hw", "as": "xl"}, {"calculate": "datum.xi + datum.hw", "as": "xr"}],
   "mark": {"type": "area", "orient": "horizontal", "opacity": 1, "stroke": "#333333", "strokeWidth": 1.2},
   "encoding": {
    "x": {"field": "xl", "type": "quantitative", "stack": null, "scale": {"domain": [0.4, 3.6], "nice": false, "zero": false}, "axis": {"values": [1,2,3], "labelExpr": "datum.value == 1 ? 'AESv1' : datum.value == 2 ? 'AESv2' : 'FFE'", "title": null}},
    "x2": {"field": "xr"},
    "y": {"field": "val", "type": "quantitative", "scale": {"domain": [-44700, 985000], "nice": false, "zero": false}, "axis": null},
    "order": {"value": null},
    "detail": {"field": "tech", "type": "nominal"},
    "fill": {"field": "site", "type": "nominal", "scale": {"domain": ["TCR04","TCR05","TCR08"], "range": ["#FDD7D4","#C6EBD0","#D2E1FC"]},
     "legend": {"orient": "none", "legendX": 980, "legendY": 112, "title": ["Month", "Site"], "titleLineHeight": 278, "titleFontSize": 19.5, "titleFontWeight": "normal", "titleColor": "#000000", "titlePadding": 14, "symbolType": "square", "symbolSize": 400, "symbolStrokeColor": "#333333", "symbolStrokeWidth": 1, "symbolOffset": 9, "labelOffset": 17, "labelFontSize": 19.5, "labelColor": "#000000", "rowPadding": 12, "padding": 11, "strokeColor": "#000000"}}}},
  {"data": {"name": "boxes"}, "transform": [{"filter": "datum.site == 'TCR08'"}, {"calculate": "indexof(['AESv1','AESv2','FFE'], datum.tech) + 1", "as": "xi"}, {"calculate": "datum.xi - 0.1875", "as": "mlo"}, {"calculate": "datum.xi + 0.1875", "as": "mhi"}],
   "mark": {"type": "rule", "color": "#1A1A1A", "strokeWidth": 2.4},
   "encoding": {
    "x": {"field": "mlo", "type": "quantitative", "scale": {"domain": [0.4, 3.6], "nice": false, "zero": false}, "axis": {"values": [1,2,3], "labelExpr": "datum.value == 1 ? 'AESv1' : datum.value == 2 ? 'AESv2' : 'FFE'", "title": null}},
    "x2": {"field": "mhi"},
    "y": {"field": "median", "type": "quantitative", "scale": {"domain": [-44700, 985000], "nice": false, "zero": false}, "axis": null}}},
  {"data": {"name": "points"}, "transform": [{"filter": "datum.site == 'TCR08'"}, {"window": [{"op": "row_number", "as": "rn"}], "groupby": ["tech"]}, {"calculate": "indexof(['AESv1','AESv2','FFE'], datum.tech) + 1", "as": "xi"}, {"calculate": "datum.xi + ((datum.rn * 0.6180339887) % 1 - 0.5) * 0.4", "as": "jx"}],
   "mark": {"type": "circle", "size": 48, "opacity": 1},
   "encoding": {
    "x": {"field": "jx", "type": "quantitative", "scale": {"domain": [0.4, 3.6], "nice": false, "zero": false}, "axis": {"values": [1,2,3], "labelExpr": "datum.value == 1 ? 'AESv1' : datum.value == 2 ? 'AESv2' : 'FFE'", "title": null}},
    "y": {"field": "ppm", "type": "quantitative", "scale": {"domain": [-44700, 985000], "nice": false, "zero": false}, "axis": null},
    "color": {"field": "month", "type": "nominal", "scale": {"domain": ["May","Jun","Jul","Aug","Sep","Oct"], "range": ["#1B9E77","#D95F02","#7570B3","#E7298A","#66A61E","#E6AB02"]},
     "legend": {"orient": "none", "legendX": 999, "legendY": 159, "title": null, "symbolType": "circle", "symbolSize": 40, "symbolStrokeWidth": 0, "labelFontSize": 19.5, "labelColor": "#000000", "labelOffset": 23, "rowPadding": 14.4, "padding": 0}}}}
 ]}
]}
]
}
